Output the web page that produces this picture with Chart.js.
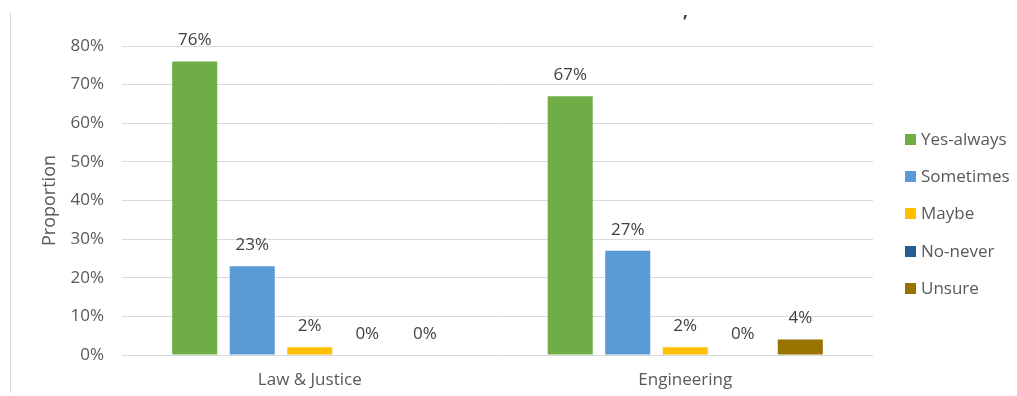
<!DOCTYPE html>
<html>
<head>
<meta charset="utf-8">
<script src="https://cdn.jsdelivr.net/npm/chart.js@4/dist/chart.umd.min.js"></script>
<style>
  html, body { margin: 0; padding: 0; background: #ffffff; }
  #wrap { width: 1017px; height: 396px; position: relative; }
</style>
</head>
<body>
<div id="wrap"><canvas id="chart" width="1017" height="396"></canvas></div>
<script>
// Groups along the x axis
const categories = ['Law & Justice', 'Engineering'];

// Share of answers (percent) for each response option
const seriesNames = ['Yes-always', 'Sometimes', 'Maybe', 'No-never', 'Unsure'];
const yesAlways = [76, 67];
const sometimes = [23, 27];
const maybe = [2, 2];
const noNever = [0, 0];
const unsure = [0, 4];

// Y axis ticks
const yTicks = [0, 10, 20, 30, 40, 50, 60, 70, 80];

const seriesValues = [yesAlways, sometimes, maybe, noNever, unsure];
const seriesColors = ['#70AD47', '#5B9BD5', '#FFC000', '#255E91', '#997300'];

const FONT = "'Open Sans', 'DejaVu Sans', sans-serif";
const TEXT = '#595959';

// Value labels above each bar
const valueLabels = {
  id: 'valueLabels',
  afterDatasetsDraw(chart) {
    const ctx = chart.ctx;
    ctx.save();
    ctx.font = '17px ' + FONT;
    ctx.fillStyle = '#404040';
    ctx.textAlign = 'center';
    ctx.textBaseline = 'middle';
    chart.data.datasets.forEach((ds, i) => {
      chart.getDatasetMeta(i).data.forEach((bar, j) => {
        ctx.fillText(ds.data[j] + '%', bar.x, bar.y - 21);
      });
    });
    ctx.restore();
  }
};

// Legend column on the right, plus the frame edge and stray glyph at the top
const sideLegend = {
  id: 'sideLegend',
  afterDraw(chart) {
    const ctx = chart.ctx;
    ctx.save();
    // frame edge on the left
    ctx.strokeStyle = '#d9d9d9';
    ctx.lineWidth = 1;
    ctx.beginPath();
    ctx.moveTo(10.5, 12);
    ctx.lineTo(10.5, 393);
    ctx.stroke();

    ctx.fillStyle = '#404040';
    ctx.font = 'bold 17px ' + FONT;
    ctx.textAlign = 'center';
    ctx.textBaseline = 'middle';
    ctx.fillText('\u2019', 685, 23);

    ctx.textAlign = 'left';
    const x0 = 905, y0 = 139.3, step = 37.3;
    chart.data.datasets.forEach((ds, i) => {
      const y = y0 + i * step;
      ctx.fillStyle = ds.backgroundColor;
      ctx.fillRect(x0, Math.round(y - 5.5), 11, 11);
      ctx.fillStyle = TEXT;
      ctx.font = '17px ' + FONT;
      ctx.fillText(ds.label, x0 + 16, y + 0.5);
    });
    ctx.restore();
  }
};

new Chart(document.getElementById('chart'), {
  type: 'bar',
  data: {
    labels: categories,
    datasets: seriesNames.map((name, i) => ({
      label: name,
      data: seriesValues[i],
      backgroundColor: seriesColors[i],
      borderWidth: 0,
      categoryPercentage: 0.766,
      barPercentage: 0.783
    }))
  },
  options: {
    responsive: false,
    animation: false,
    devicePixelRatio: 1,
    layout: { padding: { left: 10, right: 144, top: 46, bottom: 0 } },
    plugins: {
      legend: { display: false },
      tooltip: { enabled: false }
    },
    scales: {
      x: {
        grid: { display: false, drawTicks: false },
        border: { display: false },
        ticks: { color: TEXT, font: { family: FONT, size: 17 }, padding: 15 },
        afterFit(scale) { scale.height = 41; }
      },
      y: {
        min: 0,
        max: 80,
        afterBuildTicks(scale) { scale.ticks = yTicks.map(v => ({ value: v })); },
        grid: { color: '#d9d9d9', lineWidth: 1, drawTicks: false },
        border: { display: false },
        ticks: {
          color: TEXT,
          font: { family: FONT, size: 17 },
          padding: 18,
          callback: v => v + '%'
        },
        title: {
          display: true,
          text: 'Proportion',
          color: TEXT,
          font: { family: FONT, size: 18 },
          padding: { top: 29, bottom: 0 }
        },
        afterFit(scale) { scale.width = 112; }
      }
    }
  },
  plugins: [valueLabels, sideLegend]
});
</script>
</body>
</html>
